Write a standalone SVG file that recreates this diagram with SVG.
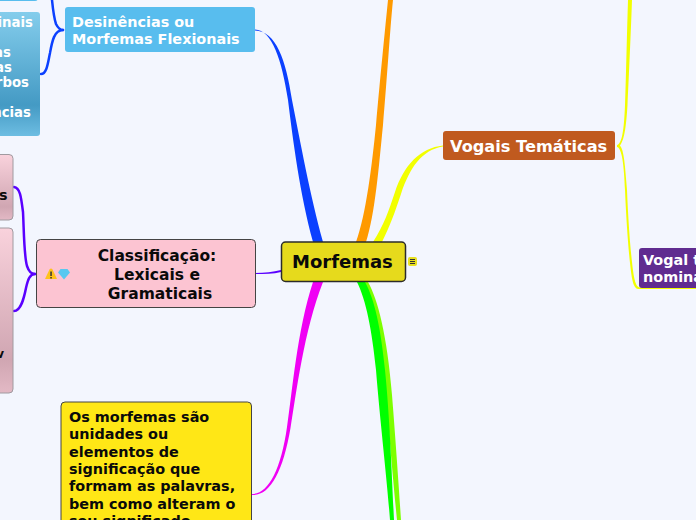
<svg xmlns="http://www.w3.org/2000/svg" width="696" height="520" viewBox="0 0 696 520">
<defs>
<linearGradient id="blue" x1="0" y1="0" x2="0" y2="1"><stop offset="0" stop-color="#84cdec"/><stop offset="0.75" stop-color="#449ac4"/><stop offset="1" stop-color="#6dbde2"/></linearGradient>
<linearGradient id="pink" x1="0" y1="0" x2="0" y2="1"><stop offset="0" stop-color="#f9d2dc"/><stop offset="0.8" stop-color="#d0a6b2"/><stop offset="1" stop-color="#e3b9c5"/></linearGradient>
</defs>
<style>
text{font-family:"DejaVu Sans","Liberation Sans",sans-serif;font-weight:700}
.w{fill:#fff}.k{fill:#0a0a0a}
.n{font-size:13.300px}
.b{fill:none;stroke-width:2.500px;stroke-linecap:round}
</style>
<rect width="696" height="520" fill="#f3f6fe"/>
<g id="connectors">
<path d="M255 29.500C272 30 282 60 288 100C293 140 300 195 313 242L323 242C310 195 300 140 292 100C286 60 276 31 255 30.500Z" fill="#0b40ff"/>
<path d="M356 242C366 215 372 165 376 125C380 80 385 30 388 0L393 0C390 30 387 80 383 125C379 165 375 215 366 242Z" fill="#ff9a00"/>
<path d="M373 242C384 225 389 210 395 192C404 165 420 148 443 145.500L443 146.500C422 150 410 167 401 194C395 212 390 226 382 242Z" fill="#f2ff00"/>
<path d="M252 494C268 494 281 470 287 427C292 395 297 330 313 282L323 282C304 330 296 395 290.500 428C283 472 270 496 252 495Z" fill="#f000f4"/>
<path d="M362 282C372 300 381 335 386 395C390 445 394 490 397 520L401 520C399 490 396 445 392 395C387 335 378 300 368 282Z" fill="#7dff00"/>
<path d="M357 282C366 300 372 330 376 370C380 420 387 480 390 520L394 520C392 480 390 420 385 370C381 330 375 300 365 282Z" fill="#00ff00"/>
<path d="M255 273C265 273 273 272 281 270L281 272C273 274 265 274 255 274Z" fill="#5a00ff"/>
<path class="b" d="M14 187C20 188 21 196 23 212C24 232 24 256 27 266C29 272 31 274 35 274" stroke="#5a00ff"/>
<path class="b" d="M14 311C21 311 24 298 26 288C28 279 30 274 35 274" stroke="#5a00ff"/>
<path class="b" d="M52 0C53 10 54 18 56 24C58 28 60 30 63 30" stroke="#0b40ff"/>
<path class="b" d="M41 74C47 74 48 62 50 53C52 42 54 30 63 30" stroke="#0b40ff"/>
<path d="M617 145C622 144 624 130 625 105C626 75 627 30 628 0L632 0C631 30 629 75 627.500 105C626 130 624 140 620 145.500C624 150 625 165 627 190C628 215 630 245 632 262C634 281 636 287 640 287.500L696 287.500L696 289L638 289C634 288 632 283 630 263C628 245 626 215 625 190C624 165 622 148 617 147Z" fill="#f2ff00"/>
</g>
<g id="node-morfemas">
<rect x="281.500" y="242" width="124" height="39.500" rx="4" fill="#e6da1c" stroke="#2b2b2b" stroke-width="1.500"/>
<text x="292" y="268" font-size="18" class="k">Morfemas</text>
<rect x="408" y="257" width="9" height="9" rx="2" fill="#e8e020"/>
<path d="M410 259.500h5M410 261.500h5M410 263.500h5" stroke="#333" stroke-width="1"/>
</g>
<g id="node-desinencias">
<rect x="65" y="7" width="190" height="45" rx="3" fill="#58bdee"/>
<text x="72" y="27" font-size="14.400" class="w">Desinências ou</text>
<text x="72" y="44" font-size="14.400" class="w">Morfemas Flexionais</text>
</g>
<g id="node-desinencias-top">
<rect x="-10" y="-20" width="48" height="21" rx="3" fill="#58bdee"/>
</g>
<g id="node-nominais">
<rect x="-10" y="12" width="50" height="124" rx="3" fill="url(#blue)"/>
<text x="33" y="27" class="n w" text-anchor="end">inais</text>
<text x="11" y="57" class="n w" text-anchor="end">as</text>
<text x="12" y="72" class="n w" text-anchor="end">as</text>
<text x="29" y="87" class="n w" text-anchor="end">rbos</text>
<text x="31" y="117" class="n w" text-anchor="end">ncias</text>
</g>
<g id="node-classificacao">
<rect x="36.500" y="239.500" width="219" height="68" rx="4" fill="#fcc4d2" stroke="#444" stroke-width="1"/>
<text x="157" y="261" font-size="15.500" class="k" text-anchor="middle">Classificação:</text>
<text x="157" y="280" font-size="15.500" class="k" text-anchor="middle">Lexicais e</text>
<text x="160" y="299" font-size="15.500" class="k" text-anchor="middle">Gramaticais</text>
<path d="M45 279L49.500 269.500Q51 267.500 52.500 269.500L57 279Z" fill="#ffc21a"/>
<rect x="50.300" y="271.500" width="1.500" height="4.500" fill="#333"/>
<rect x="50.300" y="277" width="1.500" height="1.500" fill="#333"/>
<path d="M58 272.500L60.500 269H67.500L70 272.500L64 279.500Z" fill="#58c8f0"/>
</g>
<g id="node-lexicais">
<rect x="-10" y="154.500" width="23" height="65.500" rx="4" fill="url(#pink)" stroke="#a09aa0" stroke-width="1"/>
<text x="7.500" y="200" font-size="14.400" class="k" text-anchor="end">s</text>
</g>
<g id="node-gramaticais">
<rect x="-10" y="228" width="23" height="165" rx="4" fill="url(#pink)" stroke="#a09aa0" stroke-width="1"/>
<text x="4" y="358" font-size="12" class="k" text-anchor="end">v</text>
</g>
<g id="node-definicao">
<rect x="61" y="402" width="190.500" height="130" rx="4" fill="#ffe716" stroke="#444" stroke-width="1"/>
<text x="69" y="422" font-size="14.400" class="k">Os morfemas são</text>
<text x="69" y="439.300" font-size="14.400" class="k">unidades ou</text>
<text x="69" y="456.600" font-size="14.400" class="k">elementos de</text>
<text x="69" y="474" font-size="14.400" class="k">significação que</text>
<text x="69" y="491.300" font-size="14.400" class="k">formam as palavras,</text>
<text x="69" y="508.600" font-size="14.400" class="k">bem como alteram o</text>
<text x="69" y="526" font-size="14.400" class="k">seu significado.</text>
</g>
<g id="node-vogais">
<rect x="443" y="131" width="172" height="29" rx="3" fill="#c05a1f"/>
<text x="450" y="152" font-size="16.200" class="w">Vogais Temáticas</text>
</g>
<g id="node-vogal-nominal">
<rect x="639" y="248" width="70" height="40" rx="3" fill="#602c90"/>
<text x="643" y="265" font-size="14.400" class="w">Vogal temática</text>
<text x="643" y="282" font-size="14.400" class="w">nominal</text>
</g>
</svg>
